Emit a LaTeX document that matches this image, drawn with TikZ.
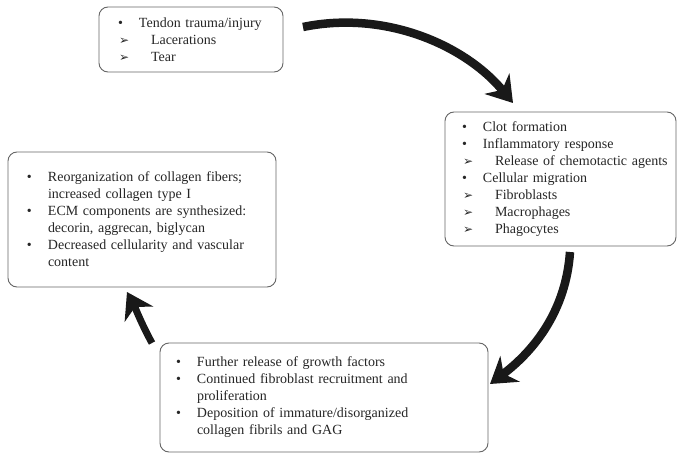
\documentclass[tikz,border=0pt]{standalone}
\usepackage{fontspec}
\setmainfont{Liberation Serif}
\newfontfamily\symf{DejaVu Sans}
\usetikzlibrary{arrows.meta}
\newcommand{\bl}[1]{\mbox{\makebox[21pt][l]{\textbullet}#1}}
\newcommand{\cl}[1]{\mbox{\hspace*{21pt}#1}}
\newcommand{\sbl}[1]{\mbox{\hspace*{1pt}\makebox[32pt][l]{\symf\fontsize{12}{12}\selectfont ➢}#1}}
\begin{document}
\begin{tikzpicture}[x=1pt,y=-1pt,
  box/.style={draw=black!60, line width=0.9pt, rounded corners=9pt, align=left,
    font=\fontsize{14}{17}\selectfont, text=black!85, anchor=center, inner ysep=0pt},
  bigarrow/.style={line width=8.5pt, black!90, -{Stealth[length=25pt,width=32pt,inset=8pt]}}]
\useasboundingbox[fill=white] (0,0) rectangle (681,455);
% boxes
\node[box, minimum width=184pt, minimum height=65pt, text width=146pt, inner xsep=19pt] (b1) at (191,39.5)
 {\bl{Tendon trauma/injury}\\ \sbl{Lacerations}\\ \sbl{Tear}};
\node[box, minimum width=231pt, minimum height=134pt, text width=197pt, inner xsep=17pt] (b2) at (560.5,179)
 {\bl{Clot formation}\\ \bl{Inflammatory response}\\ \sbl{Release of chemotactic agents}\\ \bl{Cellular migration}\\ \sbl{Fibroblasts}\\ \sbl{Macrophages}\\ \sbl{Phagocytes}};
\node[box, minimum width=268pt, minimum height=135pt, text width=230pt, inner xsep=19pt] (b3) at (142,219.5)
 {\bl{Reorganization of collagen fibers;}\\ \cl{increased collagen type I}\\ \bl{ECM components are synthesized:}\\ \cl{decorin, aggrecan, biglycan}\\ \bl{Decreased cellularity and vascular}\\ \cl{content}};
\node[box, minimum width=328pt, minimum height=109pt, text width=296pt, inner xsep=16pt] (b4) at (324,397.5)
 {\bl{Further release of growth factors}\\ \bl{Continued fibroblast recruitment and}\\ \cl{proliferation}\\ \bl{Deposition of immature/disorganized}\\ \cl{collagen fibrils and GAG}};
% arrow end points
\coordinate (a1s) at (303,27);
\coordinate (a1e) at (513,103);
\coordinate (a2s) at (570,252);
\coordinate (a2e) at (490,384);
\coordinate (a3s) at (152,343);
\coordinate (a3e) at (127,292);
\draw[bigarrow] (a1s) .. controls (385,10) and (465,45) .. (a1e);
\draw[bigarrow] (a2s) .. controls (566,310) and (535,350) .. (a2e);
\draw[bigarrow, line width=7pt] (a3s) .. controls (142,325) and (134,305) .. (a3e);
\end{tikzpicture}
\end{document}
